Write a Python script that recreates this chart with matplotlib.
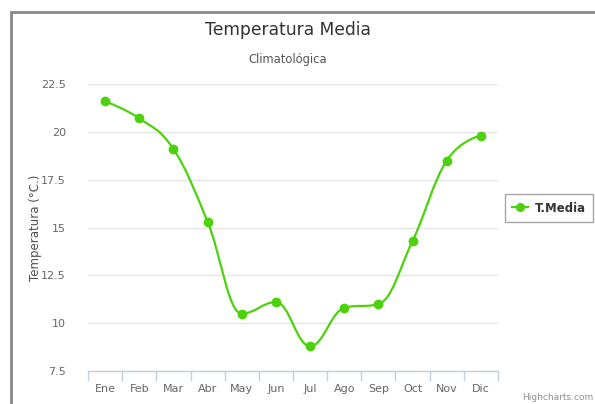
import matplotlib
matplotlib.use("Agg")
import matplotlib.pyplot as plt
from matplotlib.path import Path
from matplotlib.patches import PathPatch, Rectangle
from matplotlib.lines import Line2D

# DATA
months = ['Ene', 'Feb', 'Mar', 'Abr', 'May', 'Jun',
          'Jul', 'Ago', 'Sep', 'Oct', 'Nov', 'Dic']
t_media = [21.6, 20.7, 19.1, 15.3, 10.5, 11.1, 8.8, 10.8, 11.0, 14.3, 18.5, 19.8]
y_ticks = [7.5, 10, 12.5, 15, 17.5, 20, 22.5]
y_tick_labels = ['7.5', '10', '12.5', '15', '17.5', '20', '22.5']

GREEN = '#4cd10c'


def spline_path(xs, ys, smoothing=1.5):
    """ Highcharts-like spline as bezier path """
    n = len(xs)
    left = [(xs[i], ys[i]) for i in range(n)]
    right = [(xs[i], ys[i]) for i in range(n)]
    denom = smoothing + 1
    for i in range(1, n - 1):
        px, py = xs[i], ys[i]
        lx, ly = xs[i - 1], ys[i - 1]
        nx, ny = xs[i + 1], ys[i + 1]
        lcx = (smoothing * px + lx) / denom
        lcy = (smoothing * py + ly) / denom
        rcx = (smoothing * px + nx) / denom
        rcy = (smoothing * py + ny) / denom
        if rcx != lcx:
            corr = ((rcy - lcy) * (rcx - px)) / (rcx - lcx) + py - rcy
            lcy += corr
            rcy += corr
        if lcy > ly and lcy > py:
            lcy = max(ly, py)
            rcy = 2 * py - lcy
        elif lcy < ly and lcy < py:
            lcy = min(ly, py)
            rcy = 2 * py - lcy
        if rcy > ny and rcy > py:
            rcy = max(ny, py)
            lcy = 2 * py - rcy
        elif rcy < ny and rcy < py:
            rcy = min(ny, py)
            lcy = 2 * py - rcy
        left[i] = (lcx, lcy)
        right[i] = (rcx, rcy)
    verts = [(xs[0], ys[0])]
    codes = [Path.MOVETO]
    for i in range(1, n):
        verts += [right[i - 1], left[i], (xs[i], ys[i])]
        codes += [Path.CURVE4] * 3
    return Path(verts, codes)


fig = plt.figure(figsize=(5.95, 4.04), dpi=100)
ax = fig.add_axes([88 / 595, 1 - 371 / 404, 410 / 595, 287 / 404])

x = list(range(len(months)))
ax.add_patch(PathPatch(spline_path(x, t_media), facecolor='none',
                       edgecolor=GREEN, lw=1.6, zorder=3))
ax.plot(x, t_media, 'o', color=GREEN, ms=6, zorder=4)

ax.set_xlim(-0.5, len(months) - 0.5)
ax.set_ylim(7.5, 22.5)
ax.set_yticks(y_ticks)
ax.set_yticklabels(y_tick_labels)
ax.set_xticks(x)
ax.set_xticklabels(months)
ax.set_xticks([i - 0.5 for i in range(len(months) + 1)], minor=True)
ax.tick_params(axis='x', which='major', length=0, pad=9, labelsize=8, labelcolor='#666666')
ax.tick_params(axis='x', which='minor', length=7, width=1, color='#c0d0e0')
ax.tick_params(axis='y', length=0, pad=16, labelsize=8, labelcolor='#666666')
ax.grid(axis='y', color='#e6e6e6', lw=1)
ax.set_axisbelow(True)
for s in ['top', 'right', 'left']:
    ax.spines[s].set_visible(False)
ax.spines['bottom'].set_color('#c0d0e0')
ax.spines['bottom'].set_linewidth(1)
ax.set_ylabel('Temperatura (°C.)', fontsize=8.5, color='#4d4d4d')
ax.yaxis.set_label_coords(-0.112, 0.5)

fig.text(288 / 595, 1 - 30 / 404, 'Temperatura Media', ha='center', va='center',
         fontsize=12.3, color='#333333')
fig.text(288 / 595, 1 - 60 / 404, 'Climatológica', ha='center', va='center',
         fontsize=8.3, color='#555555')
fig.text(593 / 595, 1 - 398 / 404, 'Highcharts.com', ha='right', va='center',
         fontsize=6.5, color='#909090')

# border
fig.patches.append(Rectangle((11 / 595, -0.1), 1.2, 1.1 - 12 / 404,
                             transform=fig.transFigure, fill=False,
                             edgecolor='#888888', lw=2))

# legend
handle = Line2D([], [], color=GREEN, lw=1.6, marker='o', ms=5.5)
leg = fig.legend([handle], ['T.Media'], loc='center', bbox_to_anchor=(549 / 595, 1 - 208 / 404),
                 frameon=True, fancybox=False, handlelength=1.4, handletextpad=0.6,
                 borderpad=0.6, prop={'weight': 'bold', 'size': 8.5})
leg.get_frame().set_edgecolor('#909090')
leg.get_frame().set_linewidth(1)
for t in leg.get_texts():
    t.set_color('#333333')

fig.savefig('out.png', dpi=100)
